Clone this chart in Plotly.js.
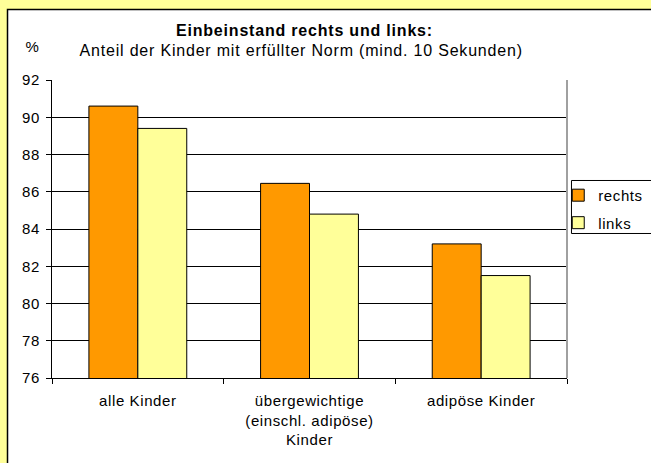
<!DOCTYPE html>
<html>
<head>
<meta charset="utf-8">
<script src="https://cdn.plot.ly/plotly-3.0.1.min.js"></script>
<style>
html,body{margin:0;padding:0;background:#FFFF99;}
#chart text{letter-spacing:0.6px;}
#chart .annotation-text{letter-spacing:0.8px;}
</style>
</head>
<body>
<div id="chart" style="width:651px;height:463px;"></div>
<script>
const categories = ["alle Kinder", "übergewichtige<br>(einschl. adipöse)<br>Kinder", "adipöse Kinder"];
const seriesNames = ["rechts", "links"];
const rechts = [90.6, 86.45, 83.2];
const links = [89.4, 84.8, 81.5];
const yTicks = [76, 78, 80, 82, 84, 86, 88, 90, 92];

const FONT = "Liberation Sans, Arial, sans-serif";

const traces = [
  {
    type: "bar", name: seriesNames[0], x: categories, y: rechts,
    marker: {color: "#FF9900", line: {color: "#000000", width: 1}},
    legendgroup: "a", hoverinfo: "skip"
  },
  {
    type: "bar", name: seriesNames[1], x: categories, y: links,
    marker: {color: "#FFFF99", line: {color: "#000000", width: 1}},
    legendgroup: "b", hoverinfo: "skip"
  }
];

const layout = {
  width: 651, height: 463,
  margin: {l: 52, r: 84, t: 80, b: 85, pad: 0, autoexpand: false},
  paper_bgcolor: "#FFFF99",
  plot_bgcolor: "#FFFFFF",
  font: {family: FONT, size: 15, color: "#000000"},
  barmode: "group",
  bargap: 0.43,
  bargroupgap: 0,
  showlegend: true,
  legend: {
    x: 0.983, xanchor: "left", y: 0.668, yanchor: "top",
    bgcolor: "rgba(0,0,0,0)", borderwidth: 0,
    font: {family: FONT, size: 15},
    tracegroupgap: 5, traceorder: "grouped"
  },
  xaxis: {
    type: "category",
    showgrid: false, zeroline: false,
    showline: true, linecolor: "#000000", linewidth: 1,
    ticks: "outside", tickson: "boundaries", ticklen: 5, tickcolor: "#000000",
    tickfont: {family: FONT, size: 15},
    ticklabelstandoff: 9,
    fixedrange: true
  },
  yaxis: {
    range: [76, 92],
    tickvals: yTicks,
    ticktext: yTicks.map(String),
    showgrid: true, gridcolor: "#000000", gridwidth: 1,
    zeroline: false,
    showline: true, linecolor: "#000000", linewidth: 1,
    ticks: "outside", ticklen: 5, tickcolor: "#000000",
    tickfont: {family: FONT, size: 15},
    ticklabelstandoff: 3,
    fixedrange: true
  },
  shapes: [
    {type: "rect", xref: "paper", yref: "paper", layer: "below",
     x0: -0.0864, x1: 1.3, y0: -0.4, y1: 1.2366,
     fillcolor: "#FFFFFF", line: {color: "#000000", width: 1.5}},
    {type: "line", xref: "paper", yref: "paper",
     x0: 1, x1: 1, y0: 0, y1: 1,
     line: {color: "#A0A0A0", width: 2}},
    {type: "rect", xref: "paper", yref: "paper",
     x0: 1.0087, x1: 1.3, y0: 0.4849, y1: 0.6628,
     fillcolor: "rgba(0,0,0,0)", line: {color: "#000000", width: 1}}
  ],
  annotations: [
    {text: "<b>Einbeinstand rechts und links:</b>", xref: "paper", yref: "paper",
     x: 0.491, y: 1.166, xanchor: "center", yanchor: "middle", showarrow: false,
     font: {family: FONT, size: 16}},
    {text: "Anteil der Kinder mit erfüllter Norm (mind. 10 Sekunden)", xref: "paper", yref: "paper",
     x: 0.4835, y: 1.099, xanchor: "center", yanchor: "middle", showarrow: false,
     font: {family: FONT, size: 16}},
    {text: "%", xref: "paper", yref: "paper",
     x: -0.0388, y: 1.111, xanchor: "center", yanchor: "middle", showarrow: false,
     font: {family: FONT, size: 15}}
  ]
};

Plotly.newPlot("chart", traces, layout, {displayModeBar: false, staticPlot: true});
</script>
</body>
</html>
